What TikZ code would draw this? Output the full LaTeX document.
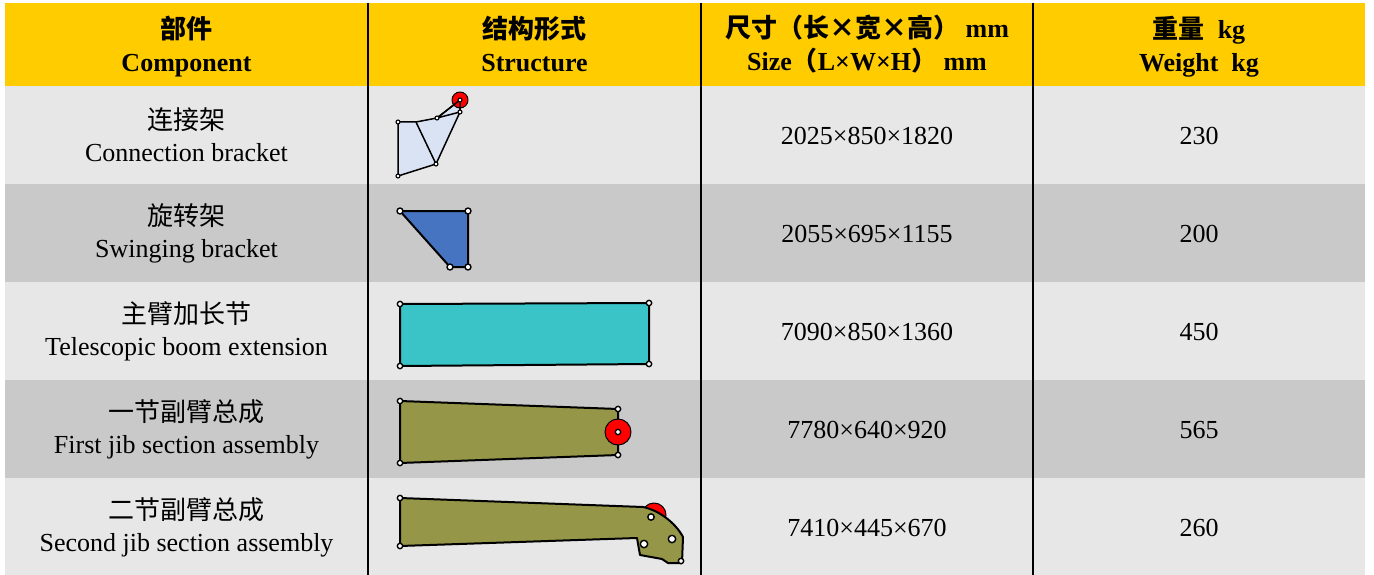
\documentclass[tikz,border=0pt]{standalone}
\usepackage{fontspec}
\setmainfont{Liberation Serif}
\newfontfamily\cjk{Noto Sans CJK SC}
\definecolor{hdryellow}{RGB}{255,204,0}
\definecolor{rowlight}{RGB}{231,231,231}
\definecolor{rowdark}{RGB}{201,201,201}
\definecolor{paleblue}{RGB}{218,227,243}
\definecolor{midblue}{RGB}{70,116,193}
\definecolor{boomcyan}{RGB}{58,196,200}
\definecolor{jibolive}{RGB}{150,150,72}
\begin{document}
\begin{tikzpicture}[x=1pt,y=-1pt,line join=round,line cap=round]
				\tikzset{every node/.style={font=\fontsize{26}{32}\selectfont},
					cell/.style={align=center,inner sep=0pt},
					hdr/.style={cell,font=\fontsize{26}{33}\selectfont\bfseries},
					joint/.style={fill=white,draw=black,line width=1.4pt},
					pin/.style={fill=red,draw=black,line width=1pt},
					part/.style={draw=black,line width=2pt}}
				\useasboundingbox (0,0) rectangle (1374,575);
				% table background
				\fill[hdryellow] (5,3) rectangle (1365,86);
				\foreach \i in {1,3,5}
				\fill[rowlight] (5,{86+98*(\i-1)}) rectangle (1365,{86+98*\i});
				\foreach \i in {2,4}
				\fill[rowdark] (5,{86+98*(\i-1)}) rectangle (1365,{86+98*\i});
				\foreach \x in {368,701,1033}
				\draw[line width=2.5pt,line cap=butt] (\x,3)--(\x,575);
				% header
				\node[hdr] (hcomp) at (186.5,46.5) {{\cjk\bfseries 部件}\\Component};
				\node[hdr] (hstruct) at (534.5,43.5) {{\cjk\bfseries 结构形式}\\Structure};
				\node[hdr] (hsize) at (867,44) {{\cjk\bfseries 尺寸（长×宽×高）} mm\\Size{\cjk\bfseries （}L×W×H{\cjk\bfseries ）} mm};
				\node[hdr] (hwt) at (1199,46.5) {{\cjk\bfseries 重量}\ \ kg\\Weight\ \ kg};
				% rows
				\foreach \i/\cn/\en/\sz/\wt in {1/连接架/Connection bracket/2025×850×1820/230,
					2/旋转架/Swinging bracket/2055×695×1155/200,
					3/主臂加长节/Telescopic boom extension/7090×850×1360/450,
					4/一节副臂总成/First jib section assembly/7780×640×920/565,
					5/二节副臂总成/Second jib section assembly/7410×445×670/260}
				{
					\pgfmathsetmacro\yc{135+98*(\i-1)}
					\node[cell] (comp\i) at (186.5,\yc) {{\cjk\cn}\\\en};
					\node[cell] (size\i) at (867,\yc+1) {\sz};
					\node[cell] (wt\i) at (1199,\yc+1) {\wt};
				}
				% connection bracket
				\filldraw[part,fill=paleblue,line width=1.5pt] (398,122)--(416,122)--(437,118)--(460,100)--(460,112)--(436,164)--(398,176)--cycle;
				\draw[pin] (460,100) circle (8pt);
				\draw[line width=1.5pt] (437,118)--(460,100)--(460,112)--(437,118) (416,122)--(436,164);
				\foreach \p in {(398,122),(437,118),(460,112),(460,100),(436,164),(398,176)}
				\draw[joint,line width=1.1pt] \p circle (2pt);
				% swinging bracket
				\filldraw[part,fill=midblue] (400,211)--(468,211)--(468,267)--(450,267)--cycle;
				\foreach \p in {(400,211),(468,211),(468,267),(450,267)}
				\draw[joint] \p circle (3pt);
				% boom extension
				\filldraw[part,fill=boomcyan] (400,304)--(649,303)--(649,364)--(400,366)--cycle;
				\foreach \p in {(400,304),(649,303),(649,364),(400,366)}
				\draw[joint] \p circle (2.7pt);
				% first jib section
				\filldraw[part,fill=jibolive] (400,401)--(618,409)--(618,455)--(400,463)--cycle;
				\draw[pin] (618,432) circle (13pt);
				\foreach \p in {(400,401),(618,409),(618,455),(400,463),(618,432)}
				\draw[joint] \p circle (2.7pt);
				% second jib section
				\draw[pin] (654,515) circle (12pt);
				\filldraw[part,fill=jibolive] (400,498)--(643,507) .. controls (658,510) and (675,522) .. (683,537)--(682,563)--(668,563)--(662,559)--(640,555)--(637,538)--(400,546)--cycle;
				\foreach \p/\r in {(400,498)/2.7,(400,546)/2.7,(651,517)/3.2,(672,539)/3.7,(644,544)/3.7,(681,561)/2.7}
				\draw[joint] \p circle (\r pt);
			\end{tikzpicture}
\end{document}
